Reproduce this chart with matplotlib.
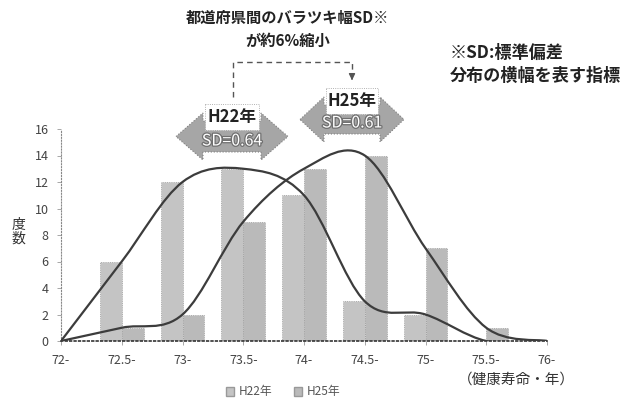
import matplotlib.pyplot as plt
import numpy as np
from matplotlib.path import Path
from matplotlib.patches import PathPatch, Polygon, Rectangle, Patch
import matplotlib.patheffects as pe

plt.rcParams['font.family'] = ['Noto Sans CJK JP', 'DejaVu Sans']

# 健康寿命の階級ごとの都道府県数
bins = ["72-", "72.5-", "73-", "73.5-", "74-", "74.5-", "75-", "75.5-", "76-"]
h22 = [0, 6, 12, 13, 11, 3, 2, 0, 0]
h25 = [0, 1, 2, 9, 13, 14, 7, 1, 0]
series_names = ["H22年", "H25年"]
sd_labels = ["SD=0.64", "SD=0.61"]

fig = plt.figure(figsize=(6.26, 4.04), dpi=100)
ax = fig.add_axes([61 / 626, 63 / 404, 486 / 626, 212 / 404])

x = np.arange(len(bins))
w = 0.36
ax.bar(x - w / 2, h22, width=w, color="#c4c4c4", edgecolor="#9a9a9a",
       linewidth=0.6, linestyle=":", zorder=2)
ax.bar(x + w / 2, h25, width=w, color="#bababa", edgecolor="#9a9a9a",
       linewidth=0.6, linestyle=":", zorder=2)


def smooth_path(xs, ys):
    # Catmull-Rom style bezier, same as a spreadsheet "smoothed line"
    pts = np.column_stack([xs, ys]).astype(float)
    n = len(pts)
    verts = [pts[0]]
    codes = [Path.MOVETO]
    for i in range(n - 1):
        p0 = pts[max(i - 1, 0)]
        p1 = pts[i]
        p2 = pts[i + 1]
        p3 = pts[min(i + 2, n - 1)]
        c1 = p1 + (p2 - p0) / 6
        c2 = p2 - (p3 - p1) / 6
        verts += [c1, c2, p2]
        codes += [Path.CURVE4] * 3
    return Path(verts, codes)


for ys in (h22, h25):
    ax.add_patch(PathPatch(smooth_path(x, ys), facecolor="none",
                           edgecolor="#3c3c3c", linewidth=1.6, zorder=3))

ax.set_xlim(0, len(bins) - 1)
ax.set_ylim(0, 16)
ax.set_yticks(range(0, 17, 2))
ax.set_xticks(x)
ax.set_xticklabels(bins)
ax.tick_params(axis="both", labelsize=9, labelcolor="#444", color="#999",
               length=3, width=0.6)
ax.tick_params(axis="x", pad=6)
ax.tick_params(axis="y", pad=6)
for s in ("top", "right"):
    ax.spines[s].set_visible(False)
ax.spines["left"].set_linestyle(":")
ax.spines["left"].set_color("#888")
ax.spines["bottom"].set_linestyle(":")
ax.spines["bottom"].set_color("#333")
ax.spines["bottom"].set_linewidth(1.2)

fig.legend(handles=[Patch(facecolor="#c4c4c4", edgecolor="#999"),
                    Patch(facecolor="#bababa", edgecolor="#999")],
           labels=series_names, loc="center",
           bbox_to_anchor=(283 / 626, 1 - 392 / 404), ncol=2, frameon=False,
           fontsize=8.5, labelcolor="#555", handlelength=0.7, handleheight=0.7,
           handletextpad=0.4, columnspacing=1.8)

# overlay in pixel coordinates for the annotations
ov = fig.add_axes([0, 0, 1, 1])
ov.set_xlim(0, 626)
ov.set_ylim(404, 0)
ov.axis("off")
ov.patch.set_alpha(0)

ov.text(18, 232, "度\n数", ha="center", va="center", fontsize=10,
        color="#333", linespacing=1.0)
ov.text(516, 380, "（健康寿命・年）", ha="center", va="center", fontsize=10.5,
        color="#333")

ov.text(288, 18, "都道府県間のバラツキ幅SD※", ha="center", va="center",
        fontsize=11, fontweight="bold", color="#222")
ov.text(288, 41, "が約6%縮小", ha="center", va="center",
        fontsize=11, fontweight="bold", color="#222")
ov.text(450, 53, "※SD:標準偏差", ha="left", va="center",
        fontsize=12.3, fontweight="bold", color="#222")
ov.text(450, 76, "分布の横幅を表す指標", ha="left", va="center",
        fontsize=12.3, fontweight="bold", color="#222")

# dashed connector from H22 to H25
ov.plot([233, 233, 352, 352], [97, 62, 62, 77], color="#555",
        linewidth=1.0, linestyle=(0, (4, 3)))
ov.annotate("", xy=(352, 83), xytext=(352, 75),
            arrowprops=dict(arrowstyle="-|>", color="#555", lw=1.0,
                            mutation_scale=9))


def sd_arrow(x0, x1, top, bottom, head, shaft_in, name, sd):
    cy = (top + bottom) / 2
    pts = [(x0, cy), (x0 + head, top), (x0 + head, top + shaft_in),
           (x1 - head, top + shaft_in), (x1 - head, top), (x1, cy),
           (x1 - head, bottom), (x1 - head, bottom - shaft_in),
           (x0 + head, bottom - shaft_in), (x0 + head, bottom)]
    ov.add_patch(Polygon(pts, closed=True, facecolor="#a6a6a6",
                         edgecolor="#808080", linewidth=0.8, linestyle=":"))
    bx0 = x0 + head + 2
    bx1 = x1 - head - 2
    ov.add_patch(Rectangle((bx0, top - 9), bx1 - bx0, 26, facecolor="white",
                           edgecolor="#999", linewidth=0.6, linestyle=":"))
    xc = (x0 + x1) / 2
    ov.text(xc, top + 4, name, ha="center", va="center", fontsize=12,
            fontweight="bold", color="#222")
    ov.text(xc, bottom - shaft_in - 11, sd, ha="center", va="center",
            fontsize=11.5, color="white",
            path_effects=[pe.withStroke(linewidth=1.8, foreground="#707070")])


sd_arrow(176, 288, 113, 160, 27, 8, series_names[0], sd_labels[0])
sd_arrow(300, 404, 97, 142, 24, 8, series_names[1], sd_labels[1])

fig.savefig("out.png", dpi=100)
